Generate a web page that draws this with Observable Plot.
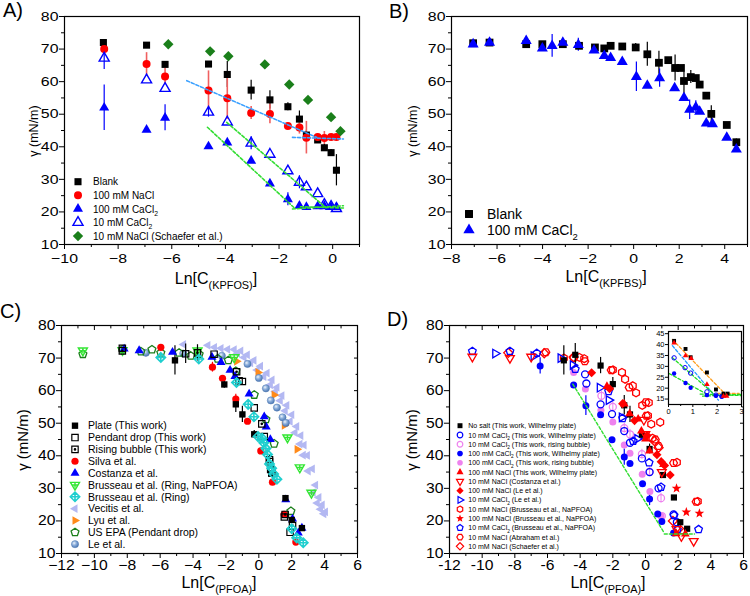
<!DOCTYPE html>
<html><head><meta charset="utf-8">
<script src="https://cdn.jsdelivr.net/npm/d3@7"></script>
<script src="https://cdn.jsdelivr.net/npm/@observablehq/plot@0.6"></script>
<style>
body{margin:0;background:#fff;}
#root{position:relative;width:750px;height:596px;overflow:hidden;background:#fff;font-family:"Liberation Sans",Arial,sans-serif;}
</style></head><body><div id="root"></div>
<script>
// ================= DATA =================
// Panel A  [ln C, gamma, error]
const aBlank = [[-8.55,72.0,0],[-6.94,71.2,0],[-6.25,65.3,0],[-4.63,65.4,0],[-3.93,62.2,4],[-3.04,57.4,3],[-2.34,54.4,2.8],[-1.67,52.3,1.2],[-1.24,48.5,2.5],[-0.98,43.6,1.5],[-0.56,42.1,0],[-0.31,39.7,1],[-0.06,38.2,1],[0.14,32.8,4.8]];
const aNaCl100 = [[-8.52,70.0,0],[-6.94,65.4,3.5],[-6.25,61.6,2.5],[-4.63,57.3,6],[-3.93,54.9,6.5],[-3.04,50.4,2],[-2.34,50.1,3],[-1.67,46.4,0],[-1.24,45.9,2],[-0.98,42.8,5],[-0.56,43.0,0],[-0.31,42.7,2],[-0.06,43.0,0],[0.14,43.0,0]];
const aCa100 = [[-8.52,52.0,7],[-6.94,45.2,0],[-6.25,48.9,4],[-4.63,40.1,0],[-3.93,41.3,0],[-3.04,35.7,0],[-2.34,28.7,0],[-1.67,23.9,2],[-1.24,21.9,0],[-0.98,21.5,0],[-0.56,21.7,0],[-0.31,21.7,0],[-0.06,21.5,0],[0.14,21.5,0]];
const aCa10 = [[-8.52,67.2,3.5],[-6.94,60.5,0],[-6.25,57.9,0],[-4.63,50.6,1.5],[-3.93,47.6,0],[-3.04,41.1,2],[-2.34,37.7,0],[-1.67,32.6,0],[-1.24,29.1,2],[-0.98,27.7,0],[-0.56,25.6,0],[-0.31,22.3,1],[-0.06,21.7,0],[0.14,21.0,0]];
const aSchaefer = [[-6.13,71.5],[-4.57,69.3],[-3.89,67.8],[-2.53,65.3],[-1.62,59.1],[-0.92,54.4],[-0.06,49.1],[0.29,44.8]];
const aFitBlue1 = [[-5.44,60.3],[-0.6,42.9]];
const aFitBlue2 = [[-1.5,42.9],[0.4,42.4]];
const aFitGreen1 = [[-4.67,46.0],[-1.4,21.0]];
const aFitGreen2 = [[-3.95,47.5],[-0.25,21.3]];
const aFitGreen3 = [[-1.5,20.9],[0.4,21.9]];
const aFitGreen4 = [[-1.2,21.6],[0.4,21.2]];
const aXTicks = [-10,-8,-6,-4,-2,0];
const aXMinor = [-9,-7,-5,-3,-1,1];
const gYTicks = [10,20,30,40,50,60,70,80];
const gYMinor = [15,25,35,45,55,65,75];

// Panel B
const bBlank = [[-7.05,71.8,0],[-6.33,72.0,0],[-4.72,71.5,0],[-4.01,71.5,0],[-3.11,71.5,0],[-2.40,71.0,0],[-1.70,70.5,0],[-1.29,70.2,0],[-1.01,71.0,0],[-0.50,70.8,0],[0.09,70.5,1.2],[0.60,68.4,3.7],[1.11,65.8,3.5],[1.52,66.6,0],[1.82,64.2,4],[2.07,64.2,0],[2.21,60.2,5],[2.51,61.4,2],[2.73,61.1,0],[2.90,59.1,0],[3.19,55.7,0],[3.41,50.1,2.5],[4.09,46.7,0],[4.51,41.4,1]];
const bCa100 = [[-7.05,71.5,0],[-6.33,72.0,0],[-4.72,72.5,0],[-4.01,70.2,0],[-3.58,71.0,3.5],[-3.11,72.0,0],[-2.43,71.3,2],[-1.74,69.6,0],[-1.29,67.9,0],[-1.01,67.3,0],[-0.50,66.1,0],[0.12,61.5,4.5],[0.60,58.8,0],[1.14,61.1,2.8],[1.80,58.0,0],[2.21,55.0,0],[2.46,51.4,3],[2.73,52.1,2],[2.90,50.8,0],[3.19,47.2,0],[3.46,47.0,0],[4.09,42.8,0],[4.51,39.2,0]];
const bXTicks = [-8,-6,-4,-2,0,2,4];
const bXMinor = [-7,-5,-3,-1,1,3,5];

// Panel C
const cPlate = [[-5.1,69.3,4.5],[-2.1,61.9,1.2],[-1.4,55.8,2.5],[-1.0,52.7,2.5],[-0.28,46.6,1.2],[0.75,34.5,1],[1.62,27.0,0],[2.0,20.3,1],[2.62,17.8,0]];
const cPendant = [[-8.3,73.0,0],[-4.45,71.3,3],[-2.72,71.2,0],[-1.0,62.8,0],[-0.28,54.7,0],[0.33,45.9,0],[0.65,38.8,0],[0.72,35.8,0],[1.55,21.2,0],[1.9,16.5,0]];
const cBubble = [[-8.3,72.2,0],[-3.73,71.6,2.5],[-1.35,65.8,0],[-1.2,63.0,0],[0.18,49.8,0],[0.65,38.2,2],[0.8,35.3,0],[1.6,22.0,0],[2.05,18.6,0]];
const cSilva = [[-5.96,73.3,0],[-2.82,67.2,1.5],[-2.21,63.8,0],[-1.4,57.4,1.5],[-0.69,50.6,0],[0.12,41.5,0],[0.83,31.9,0],[1.54,22.0,0],[2.25,13.5,0]];
const cCostanza = [[-8.19,72.8],[-7.28,72.3],[-5.25,71.8],[-2.85,70.3],[-2.3,68.7],[-1.75,66.3],[-1.45,64.4],[-0.59,59.0],[0.33,52.0],[0.45,48.9],[0.7,45.0],[1.64,26.5],[2.05,20.6],[2.62,17.8],[2.4,16.3]];
const cBrusNa = [[-10.7,72.3],[-8.29,72.4],[-3.73,72.3],[-1.5,70.2],[1.74,45.6],[2.49,36.4],[3.2,28.6]];
const cBrusRing = [[-5.96,70.2],[-3.65,69.7],[-1.36,62.5],[-0.65,55.8],[-0.3,52.0],[-0.05,45.9],[0.2,45.4],[0.3,44.0],[0.43,42.2],[0.53,40.4],[0.65,37.5],[0.78,36.2],[0.9,34.4],[1.1,32.8],[2.0,17.6],[2.3,14.8],[2.7,13.3]];
const cVecitis = [[-4.58,74.2],[-3.1,73.9],[-2.7,73.3],[-2.3,73.0],[-1.9,72.7],[-1.5,72.6],[-1.1,72.2],[-0.7,71.0],[-0.3,69.3],[0.1,67.5],[0.5,65.4],[0.8,63.3],[1.1,61.0],[1.4,58.5],[1.7,55.5],[2.0,52.6],[2.3,49.0],[2.55,46.2],[2.75,43.3],[2.95,40.1],[3.25,36.0],[3.45,31.0],[3.65,27.2],[3.85,24.9],[4.05,22.8],
  [-1.3,71.5],[-0.9,70.2],[-0.5,68.5],[-0.1,66.3],[0.3,64.3],[0.7,61.8],[1.0,59.7],[1.3,56.9],[1.6,53.8],[1.9,50.6],[2.2,47.1],[2.5,43.6],[2.7,40.2],[3.0,35.3],[3.3,28.7],[3.55,25.5],[3.75,23.6],[3.95,22.2]];
const cLyu = [[-1.35,69.0],[-0.05,65.6],[0.93,58.7],[1.55,49.3],[2.33,42.0]];
const cEPA = [[-10.7,71.2],[-8.29,72.6],[-7.17,72.0],[-6.5,72.6],[-5.96,71.6],[-4.85,71.6],[-4.14,70.7],[-3.63,71.2],[-2.5,69.8],[-1.85,69.3],[-1.4,66.0],[-0.28,58.7],[0.43,51.2],[0.93,43.7],[1.95,23.0]];
const cLe = [[-6.87,71.6],[-4.6,71.4],[-2.25,70.7],[-0.69,68.2],[0.0,63.9],[0.43,60.7],[0.73,57.0],[1.1,54.8],[1.44,51.8],[1.64,50.1]];
const cdXTicks = [-12,-10,-8,-6,-4,-2,0,2,4,6];
const cdXMinor = [-11,-9,-7,-5,-3,-1,1,3,5];

// Panel D
const dNoSalt = [[-5.0,69.3,4.5],[-4.3,71.0,3.5],[-2.75,67.7,2.5],[-2.0,62.0,2],[-1.3,55.5,3],[-0.95,52.7,2.5],[-0.22,46.5,1.5],[0.25,42.1,1.5],[1.07,34.1,0],[1.74,27.2,0],[2.13,19.6,0],[2.55,17.6,0]];
const dCa10W = [[-3.7,65.0,0],[-3.62,62.2,0],[-2.75,55.8,0],[-2.05,52.8,0],[-1.3,47.6,0],[-0.95,44.0,0],[-0.22,39.2,0],[0.25,35.0,0],[0.8,30.0,0],[1.72,22.0,0],[1.92,19.6,0]];
const dCa10RB = [[-2.7,58.4,1.5],[-2.0,55.0,1.5],[-1.3,48.5,1.5],[-0.95,46.6,1.5],[-0.22,40.5,1.5],[0.25,35.1,1.5],[0.95,27.0,1.5],[1.0,21.5,0]];
const dCa100W = [[-6.45,67.6,2.5],[-4.4,61.7,0],[-3.65,55.4,3],[-2.75,52.6,0],[-2.05,44.9,0],[-1.3,39.6,2.5],[-0.95,37.6,0],[-0.18,31.4,0],[0.25,26.7,2],[0.75,22.1,0],[1.0,19.8,0],[1.72,16.3,0]];
const dCa100RB = [[-4.4,65.6],[-3.68,60.5],[-2.73,54.0],[-2.0,50.4],[-1.3,43.3],[-0.95,40.8],[-0.2,34.3],[0.27,29.0],[0.95,21.5]];
const dNaCl100 = [[-2.36,61.3],[-1.3,55.9],[-0.97,52.9],[-0.45,51.3],[-0.25,47.6],[0.0,45.2],[0.25,41.5],[1.1,37.3],[1.88,16.1],[2.44,16.0]];
const dCosta10 = [[-10.6,70.4],[-8.3,70.0],[-7.0,70.4],[-0.1,51.0],[-0.01,46.6],[1.0,35.0],[1.9,17.5],[2.2,15.3],[2.95,13.8]];
const dLe100 = [[-3.3,65.5],[-2.2,60.6],[-1.4,56.0],[-0.67,50.8],[0.1,46.2],[0.7,40.3],[0.96,38.2],[1.17,37.0],[1.51,34.1]];
const dLeCa10 = [[-9.2,71.4],[-6.85,70.6],[-5.2,70.0],[-4.45,67.8],[-2.8,60.9],[-2.25,57.1],[-1.45,51.8],[-0.5,45.2]];
const dBrus10 = [[-5.0,70.0],[-4.05,70.2],[-3.75,69.8],[-2.0,66.4],[-1.44,65.6],[-1.25,63.5],[-0.78,61.5],[-0.58,59.3],[-0.2,55.5],[0.2,56.3],[0.15,52.3],[0.35,49.7],[0.43,45.4],[0.9,50.3],[1.92,38.0],[3.2,26.0]];
const dBrus100 = [[1.9,30.0],[2.5,22.7],[3.3,22.3]];
const dBrusCa10 = [[-10.6,72.1],[-8.3,72.1],[-6.65,71.5],[-4.3,66.6],[-2.26,59.8],[-1.4,51.5],[-0.75,44.5],[0.22,37.9],[0.95,30.4],[1.75,21.7],[1.95,17.3],[3.25,17.4]];
const dAbraham = [[-6.1,71.8],[-4.4,70.0],[-3.72,69.0],[-2.1,66.3],[-1.0,61.0],[0.02,56.4],[0.05,52.3],[0.6,45.0],[0.8,43.0],[1.72,37.8],[3.1,25.9]];
const dSchaefer = [[-8.4,71.6],[-6.2,71.5],[-4.4,70.3],[0.55,44.5],[0.8,42.5],[1.68,20.0],[2.05,17.7]];
const dFit1 = [[-4.45,62.0],[1.15,16.3]];
const dFit2 = [[1.15,16.0],[3.0,16.0]];

// Inset of D
const iNoSalt = [[0.23,41.7],[0.70,38.0],[0.91,34.2],[1.58,27.2],[1.95,19.4],[2.26,17.5],[2.43,17.5]];
const iNaCl100 = [[0.23,40.8],[0.70,34.9],[0.93,33.6],[1.58,21.7],[2.26,16.3],[2.39,16.3]];
const iCa10 = [[0.23,33.9],[0.68,29.4],[0.91,26.9],[1.58,18.3],[1.95,16.8],[2.19,16.3]];
const iCa100 = [[0.23,26.7],[0.70,22.4],[0.91,20.2],[1.58,16.8],[1.95,16.5],[2.19,16.0]];
const iFitOrange = [[0.16,42.3],[2.4,16.5]];
const iFitOrange2 = [[2.0,17.6],[2.9,17.6]];
const iFitBlue = [[0.16,39.5],[2.05,14.5]];
const iFitGreen1 = [[0.16,34.0],[1.92,16.8]];
const iFitGreen2 = [[0.03,26.7],[1.65,16.8]];
const iFitGreen3 = [[1.3,17.3],[3.0,16.6]];
const iFitGreen4 = [[1.4,16.3],[3.0,17.2]];
const iXTicks = [0,1,2,3];
const iXMinor = [0.5,1.5,2.5];
const iYTicks = [15,20,25,30,35,40,45];

// Legend labels
const aLegend = ["Blank","100 mM NaCl","100 mM CaCl_{2}","10 mM CaCl_{2}","10 mM NaCl (Schaefer et al.)"];
const bLegend = ["Blank","100 mM CaCl_{2}"];
const cLegend = ["Plate (This work)","Pendant drop (This work)","Rising bubble (This work)","Silva et al.","Costanza et al.","Brusseau et al. (Ring, NaPFOA)","Brusseau et al. (Ring)","Vecitis et al.","Lyu et al.","US EPA (Pendant drop)","Le et al."];
const dLegend = ["No salt (This work, Wilhelmy plate)","10 mM CaCl_{2} (This work, Wilhelmy plate)","10 mM CaCl_{2} (This work, rising bubble)","100 mM CaCl_{2} (This work, Wilhelmy plate)","100 mM CaCl_{2} (This work, rising bubble)","100 mM NaCl (This work, Wilhelmy plate)","10 mM NaCl (Costanza et al.)","100 mM NaCl (Le et al.)","10 mM CaCl_{2} (Le et al.)","10 mM NaCl (Brusseau et al., NaPFOA)","100 mM NaCl (Brusseau et al., NaPFOA)","10 mM CaCl_{2} (Brusseau et al., NaPFOA)","10 mM NaCl (Abraham et al.)","10 mM NaCl (Schaefer et al.)"];

// ================= SYMBOLS =================
function shape(n, rot, k, extra) {
  return {draw(ctx, size) {
    const r = Math.sqrt(size / Math.PI), R = r * k;
    for (let i = 0; i < n; i++) {
      const a = rot * Math.PI / 180 + 2 * Math.PI * i / n;
      const px = R * Math.cos(a), py = R * Math.sin(a);
      if (i === 0) ctx.moveTo(px, py); else ctx.lineTo(px, py);
    }
    ctx.closePath();
    if (typeof extra === "number") { const q = R * extra; ctx.moveTo(-q, 0); ctx.lineTo(q, 0); ctx.moveTo(0, -q); ctx.lineTo(0, q); }
    if (extra === "dot") { const q = Math.max(0.7, R * 0.16); ctx.moveTo(q, 0); ctx.arc(0, 0, q, 0, 2 * Math.PI); }
  }};
}
const CIRC = {draw(ctx, size) { const r = Math.sqrt(size / Math.PI); ctx.moveTo(r, 0); ctx.arc(0, 0, r, 0, 2 * Math.PI); }};
const STAR = {draw(ctx, size) { const r = Math.sqrt(size / Math.PI), R = r * 1.45, ri = R * 0.42;
  for (let i = 0; i < 10; i++) { const a = -Math.PI / 2 + i * Math.PI / 5, rr = i % 2 ? ri : R; const px = rr * Math.cos(a), py = rr * Math.sin(a); if (i === 0) ctx.moveTo(px, py); else ctx.lineTo(px, py); }
  ctx.closePath(); }};
const SQ = shape(4, 45, 1.25), SQDOT = shape(4, 45, 1.25, "dot");
const TRIU = shape(3, -90, 1.45), TRID = shape(3, 90, 1.45), TRIDP = shape(3, 90, 1.45, 0.5);
const TRIL = shape(3, 180, 1.4), TRIR = shape(3, 0, 1.4);
const DIA = shape(4, -90, 1.3), DIAP = shape(4, -90, 1.3, 0.75);
const PENT = shape(5, -90, 1.15), HEX = shape(6, -90, 1.12), HEXF = shape(6, 0, 1.12);

const K = "#000000", RED = "#ff0000", BLUE = "#0000ff", DKG = "#1a7f1a", LIME = "#33e633", CYAN = "#1fcfcf", LAV = "#b3b8f2", ORG = "#ff8a1a", VIO = "#ee82ee", SPH = "url(#sph)";

// ================= HELPERS =================
const X = d => d[0], Y = d => d[1];
function dots(data, sym, color, open, r, sw = 1.3) {
  if (color === SPH) return Plot.dot(data, {x: X, y: Y, symbol: sym, r, fill: SPH, stroke: "#4f78b0", strokeWidth: 0.5});
  return Plot.dot(data, {x: X, y: Y, symbol: sym, r, fill: open ? "none" : color, stroke: open ? color : "none", strokeWidth: open ? sw : 0});
}
function errs(data, color, sw = 1.2) {
  return Plot.ruleX(data.filter(d => d[2] > 0), {x: X, y1: d => d[1] - d[2], y2: d => d[1] + d[2], stroke: color, strokeWidth: sw});
}
function fit(pts, color, w = 1.6) { return Plot.line(pts, {x: X, y: Y, stroke: color, strokeWidth: w, strokeDasharray: "3,2"}); }
const minusFmt = d => d < 0 ? "\u2212" + (-d) : String(d);
const hyphenFmt = d => String(d);
const root = document.getElementById("root");

function panel(o) {
  const [mt, mr, mb, ml] = o.margin;
  const blank = () => "";
  const ax = [
    Plot.axisX({ticks: o.xMinor, tickSize: o.minor, tickFormat: blank, label: null}),
    Plot.axisY({ticks: o.yMinor || [], tickSize: o.minor, tickFormat: blank, label: null}),
    Plot.axisX({ticks: o.xTicks, tickSize: o.major, tickPadding: o.padX, tickFormat: o.fmt, label: null}),
    Plot.axisY({ticks: o.yTicks, tickSize: o.major, tickPadding: o.padY, tickFormat: o.fmt, label: null})
  ];
  if (o.mirror) ax.push(
    Plot.axisX({anchor: "top", ticks: o.xTicks, tickSize: -o.major * 0.8, tickFormat: blank, label: null}),
    Plot.axisX({anchor: "top", ticks: o.xMinor, tickSize: -o.minor * 0.8, tickFormat: blank, label: null}),
    Plot.axisY({anchor: "right", ticks: o.yTicks, tickSize: -o.major * 0.8, tickFormat: blank, label: null}),
    Plot.axisY({anchor: "right", ticks: o.yMinor || [], tickSize: -o.minor * 0.8, tickFormat: blank, label: null}));
  const svg = Plot.plot({
    width: o.width, height: o.height, marginTop: mt, marginRight: mr, marginBottom: mb, marginLeft: ml,
    x: {domain: o.xDomain}, y: {domain: o.yDomain},
    style: {fontFamily: '"Liberation Sans", Arial, sans-serif', fontSize: o.fontSize + "px", background: "transparent", overflow: "visible", color: "black"},
    marks: [o.fill ? Plot.frame({fill: "white", stroke: "none"}) : null, ...o.marks, ...ax, Plot.frame({stroke: "black", strokeWidth: 1.2})]
  });
  if (o.stretch && o.stretch !== 1) {
    svg.querySelectorAll('g[aria-label="x-axis tick label"] text, g[aria-label="y-axis tick label"] text').forEach(t => {
      const tr = t.getAttribute("transform") || "";
      const xa = t.getAttribute("x");
      let pre = "";
      if (xa !== null && isFinite(+xa) && +xa !== 0) { pre = ` translate(${+xa},0)`; t.removeAttribute("x"); }
      t.setAttribute("transform", `${tr}${pre} scale(${o.stretch},1)`);
    });
  }
  svg.style.position = "absolute"; svg.style.left = o.left + "px"; svg.style.top = o.top + "px";
  root.appendChild(svg);
  return svg;
}

// ================= PANELS =================
const rA = 4.0;
panel({left: 0, top: 0, width: 375, height: 298, margin: [16, 16, 54, 64], xDomain: [-10, 1], yDomain: [10, 80],
  xTicks: aXTicks, xMinor: aXMinor, yTicks: gYTicks, yMinor: gYMinor, major: 5, minor: 3, padX: 4, padY: 1,
  fmt: minusFmt, fontSize: 13, stretch: 1.22, marks: [
    errs(aBlank, K), errs(aNaCl100, "#f06060", 1.6), errs(aCa100, BLUE), errs(aCa10, BLUE),
    dots(aBlank, SQ, K, false, rA), dots(aNaCl100, CIRC, RED, false, rA),
    dots(aCa100, TRIU, BLUE, false, rA), dots(aCa10, TRIU, BLUE, true, rA, 1.4),
    dots(aSchaefer, DIA, DKG, false, rA),
    fit(aFitBlue1, "#3aa0ff"), fit(aFitBlue2, "#3aa0ff"),
    fit(aFitGreen1, "#33dd33"), fit(aFitGreen2, "#33dd33"), fit(aFitGreen3, "#33dd33"), fit(aFitGreen4, "#33dd33")
  ]});

const rB = 4.4;
panel({left: 375, top: 0, width: 375, height: 298, margin: [16, 3, 54, 76], xDomain: [-8, 5], yDomain: [10, 80],
  xTicks: bXTicks, xMinor: bXMinor, yTicks: gYTicks, yMinor: gYMinor, major: 5, minor: 3, padX: 4, padY: 1,
  fmt: minusFmt, fontSize: 13, stretch: 1.22, marks: [
    errs(bBlank, K), errs(bCa100, BLUE),
    dots(bBlank, SQ, K, false, rB), dots(bCa100, TRIU, BLUE, false, rB)
  ]});

const rC = 3.6;
panel({left: 0, top: 298, width: 375, height: 298, margin: [27, 18, 43, 61], xDomain: [-12, 6], yDomain: [10, 80],
  xTicks: cdXTicks, xMinor: cdXMinor, yTicks: gYTicks, yMinor: gYMinor, major: 5, minor: 3, padX: 2, padY: 1,
  fmt: minusFmt, fontSize: 14, stretch: 1.12, mirror: true, marks: [
    dots(cVecitis, TRIL, LAV, false, rC),
    dots(cLyu, TRIR, ORG, false, rC),
    dots(cLe, CIRC, SPH, false, rC),
    dots(cEPA, PENT, DKG, true, rC, 1.3),
    dots(cBrusNa, TRIDP, LIME, true, rC, 1.4),
    errs(cPlate, K), errs(cPendant, K), errs(cBubble, K), errs(cSilva, RED),
    dots(cCostanza, TRIU, BLUE, false, rC),
    dots(cSilva, CIRC, RED, false, rC),
    dots(cPlate, SQ, K, false, rC),
    dots(cPendant, SQ, K, true, rC, 1.2),
    dots(cBubble, SQDOT, K, true, rC, 1.2),
    dots(cBrusRing, DIAP, CYAN, true, rC, 1.6)
  ]});

const rD = 3.5;
panel({left: 375, top: 298, width: 375, height: 298, margin: [27, 7, 43, 74], xDomain: [-12, 6], yDomain: [10, 80],
  xTicks: cdXTicks, xMinor: cdXMinor, yTicks: gYTicks, yMinor: gYMinor, major: 5, minor: 3, padX: 2, padY: 1,
  fmt: hyphenFmt, fontSize: 14, stretch: 1.12, mirror: true, marks: [
    dots(dAbraham, HEXF, RED, true, rD, 1.3),
    dots(dBrus10, HEX, RED, true, rD, 1.3),
    dots(dSchaefer, DIA, RED, true, rD, 1.3),
    errs(dNoSalt, K), errs(dCa100W, BLUE), errs(dCa10RB, VIO, 1),
    dots(dCa100RB, CIRC, VIO, false, rD),
    dots(dCa10RB, CIRC, VIO, true, rD, 1.3),
    dots(dCa100W, CIRC, BLUE, false, rD),
    dots(dCa10W, CIRC, BLUE, true, rD, 1.3),
    dots(dBrusCa10, PENT, BLUE, true, rD, 1.3),
    dots(dLeCa10, TRIR, BLUE, true, rD, 1.3),
    dots(dNoSalt, SQ, K, false, rD),
    dots(dLe100, DIA, RED, false, rD),
    dots(dNaCl100, TRIU, RED, false, rD),
    dots(dCosta10, TRID, RED, true, rD, 1.3),
    dots(dBrus100, STAR, RED, false, rD),
    fit(dFit1, "#33dd33", 1.4), fit(dFit2, "#33dd33", 1.4)
  ]});

const rI = 2.2;
panel({left: 645, top: 322, width: 100, height: 100, margin: [9, 4, 18, 23], xDomain: [0, 3], yDomain: [12.5, 46],
  xTicks: iXTicks, xMinor: iXMinor, yTicks: iYTicks, yMinor: [], major: 3, minor: 2, padX: 1, padY: 1,
  fmt: hyphenFmt, fontSize: 7.5, stretch: 1, fill: true, marks: [
    fit(iFitOrange, "#ffa020", 1.3), fit(iFitOrange2, "#ffa020", 1.3), fit(iFitBlue, "#2299ff", 1.3),
    fit(iFitGreen1, "#22dd22", 1.3), fit(iFitGreen2, "#22dd22", 1.3), fit(iFitGreen3, "#22dd22", 1.3), fit(iFitGreen4, "#22dd22", 1.3),
    dots(iCa100, CIRC, BLUE, false, rI), dots(iCa10, CIRC, BLUE, true, rI, 1),
    dots(iNoSalt, SQ, K, false, rI), dots(iNaCl100, TRIU, RED, false, rI)
  ]});

// ================= OVERLAY (titles, legends) =================
const ov = d3.select(root).append("svg").attr("width", 750).attr("height", 596)
  .style("position", "absolute").style("left", "0px").style("top", "0px").style("pointer-events", "none")
  .attr("font-family", '"Liberation Sans", Arial, sans-serif');
const g = ov.append("defs").append("radialGradient").attr("id", "sph").attr("cx", "38%").attr("cy", "35%").attr("r", "65%");
g.append("stop").attr("offset", "0%").attr("stop-color", "#eef4fb");
g.append("stop").attr("offset", "45%").attr("stop-color", "#8eb0dc");
g.append("stop").attr("offset", "100%").attr("stop-color", "#4d78b4");

function rich(x, y, str, size, anchor = "start", rotate = 0) {
  const t = ov.append("text").attr("x", x).attr("y", y).attr("font-size", size).attr("text-anchor", anchor).attr("fill", "black");
  if (rotate) t.attr("transform", `rotate(${rotate},${x},${y})`);
  const parts = str.split(/(_\{[^}]*\})/).filter(s => s.length);
  let sub = false; const off = size * 0.32;
  for (const p of parts) {
    const isSub = p.startsWith("_{");
    const ts = t.append("tspan").text(isSub ? p.slice(2, -1) : p).attr("font-size", isSub ? size * 0.68 : size);
    if (isSub && !sub) ts.attr("dy", off); else if (!isSub && sub) ts.attr("dy", -off);
    sub = isSub;
  }
  return t;
}
function swatch(cx, cy, sym, color, open, r, sw = 1.3) {
  const p = d3.path(); sym.draw(p, Math.PI * r * r);
  const el = ov.append("path").attr("d", p.toString()).attr("transform", `translate(${cx},${cy})`);
  if (color === SPH) el.attr("fill", SPH).attr("stroke", "#4f78b0").attr("stroke-width", 0.5);
  else if (open) el.attr("fill", "none").attr("stroke", color).attr("stroke-width", sw);
  else el.attr("fill", color);
}
function legend(labels, styles, {sx, y0, dy, tx, size, r}) {
  labels.forEach((lab, i) => {
    const cy = y0 + i * dy; const [sym, color, open, sw] = styles[i];
    swatch(sx, cy, sym, color, open, r, sw);
    rich(tx, cy + size * 0.36, lab, size);
  });
}

rich(3, 17, "A)", 20); rich(389, 18, "B)", 20); rich(0, 318, "C)", 20); rich(387, 326, "D)", 20);
rich(38, 131, "\u03b3 (mN/m)", 12.5, "middle", -90);
rich(216, 284, "Ln[C_{(KPFOS)}]", 16, "middle");
rich(417, 131, "\u03b3 (mN/m)", 12.5, "middle", -90);
rich(606, 282, "Ln[C_{(KPFBS)}]", 16, "middle");
rich(28, 440, "\u03b3 (mN/m)", 15, "middle", -90);
rich(219, 588, "Ln[C_{(PFOA)}]", 16, "middle");
rich(417, 440, "\u03b3 (mN/m)", 15, "middle", -90);
rich(608, 588, "Ln[C_{(PFOA)}]", 16, "middle");

legend(aLegend, [[SQ, K, false], [CIRC, RED, false], [TRIU, BLUE, false], [TRIU, BLUE, true, 1.4], [DIA, DKG, false]],
  {sx: 78, y0: 181.7, dy: 13.6, tx: 93, size: 10, r: 4});
legend(bLegend, [[SQ, K, false], [TRIU, BLUE, false]], {sx: 469, y0: 214, dy: 16, tx: 487, size: 14, r: 4.5});
legend(cLegend, [[SQ, K, false], [SQ, K, true, 1.2], [SQDOT, K, true, 1.2], [CIRC, RED, false], [TRIU, BLUE, false], [TRIDP, LIME, true, 1.4],
  [DIAP, CYAN, true, 1.6], [TRIL, LAV, false], [TRIR, ORG, false], [PENT, DKG, true, 1.3], [CIRC, SPH, false]],
  {sx: 75, y0: 425.7, dy: 11.85, tx: 88, size: 10.5, r: 3.6});
legend(dLegend, [[SQ, K, false], [CIRC, BLUE, true, 1.2], [CIRC, VIO, true, 1.2], [CIRC, BLUE, false], [CIRC, VIO, false], [TRIU, RED, false],
  [TRID, RED, true, 1.2], [DIA, RED, false], [TRIR, BLUE, true, 1.2], [HEX, RED, true, 1.2], [STAR, RED, false], [PENT, BLUE, true, 1.2],
  [HEXF, RED, true, 1.2], [DIA, RED, true, 1.2]],
  {sx: 460, y0: 425.7, dy: 9.28, tx: 468.3, size: 7, r: 2.8});
</script></body></html>
